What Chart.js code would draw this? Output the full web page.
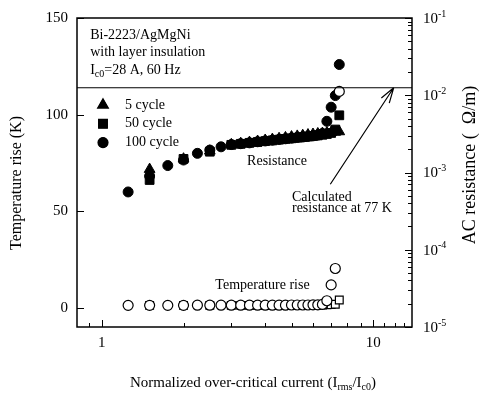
<!DOCTYPE html>
<html><head><meta charset="utf-8">
<script src="https://cdn.jsdelivr.net/npm/chart.js@4/dist/chart.umd.min.js"></script>
<style>html,body{margin:0;padding:0;background:#fff}</style>
</head><body>
<canvas id="c" width="482" height="399"></canvas>
<script>
// ---- data ----
const current5   = [1.5, 2.0, 2.5, 3.0, 3.25, 3.5, 3.75, 4.0, 4.25, 4.5, 4.75, 5.0, 5.25, 5.5, 5.75, 6.0, 6.25, 6.5, 6.75, 7.0, 7.25, 7.5];
const resistance5 = [1.1e-3, 1.5e-3, 1.9e-3, 2.3e-3, 2.38e-3, 2.46e-3, 2.54e-3, 2.62e-3, 2.69e-3, 2.76e-3, 2.83e-3, 2.9e-3, 2.96e-3, 3.02e-3, 3.08e-3, 3.13e-3, 3.18e-3, 3.22e-3, 3.27e-3, 3.3e-3, 3.33e-3, 3.38e-3];

const current50   = [1.5, 2.0, 2.5, 3.0, 3.25, 3.5, 3.75, 4.0, 4.25, 4.5, 4.75, 5.0, 5.25, 5.5, 5.75, 6.0, 6.25, 6.5, 6.75, 7.0, 7.25, 7.5];
const resistance50 = [8.0e-4, 1.5e-3, 1.86e-3, 2.28e-3, 2.35e-3, 2.42e-3, 2.48e-3, 2.55e-3, 2.6e-3, 2.66e-3, 2.72e-3, 2.77e-3, 2.82e-3, 2.87e-3, 2.92e-3, 2.97e-3, 3.02e-3, 3.08e-3, 3.15e-3, 3.25e-3, 3.6e-3, 5.5e-3];
const temperature50 = [1.2, 1.2, 1.2, 1.2, 1.2, 1.2, 1.2, 1.2, 1.2, 1.2, 1.2, 1.2, 1.2, 1.2, 1.3, 1.3, 1.3, 1.4, 1.5, 1.6, 1.8, 4.0];

const current100   = [1.25, 1.5, 1.75, 2.0, 2.25, 2.5, 2.75, 3.0, 3.25, 3.5, 3.75, 4.0, 4.25, 4.5, 4.75, 5.0, 5.25, 5.5, 5.75, 6.0, 6.25, 6.5, 6.75, 7.0, 7.25, 7.5];
const resistance100 = [5.6e-4, 9.0e-4, 1.23e-3, 1.45e-3, 1.77e-3, 1.95e-3, 2.15e-3, 2.3e-3, 2.36e-3, 2.42e-3, 2.5e-3, 2.56e-3, 2.62e-3, 2.68e-3, 2.73e-3, 2.78e-3, 2.84e-3, 2.88e-3, 2.93e-3, 2.98e-3, 3.05e-3, 3.2e-3, 4.6e-3, 7.0e-3, 9.9e-3, 2.5e-2];
const temperature100 = [1.2, 1.2, 1.2, 1.2, 1.3, 1.3, 1.3, 1.3, 1.3, 1.3, 1.3, 1.3, 1.3, 1.3, 1.3, 1.4, 1.4, 1.4, 1.4, 1.5, 1.5, 1.7, 3.6, 11.8, 20.3, 112];

const calculatedResistance77K = 0.0125;
const xTickLabels = [1, 10];
const tempTickLabels = [0, 50, 100, 150];
const resistanceDecades = [-5, -4, -3, -2, -1];
const seriesNames = ['5 cycle', '50 cycle', '100 cycle'];

const FONT = '"Liberation Serif", "Times New Roman", serif';

function pts(xs, ys) { return xs.map((x, i) => ({x: x, y: ys[i]})); }

// annotation anchors given in data units
const notes = {
  info: {x: 0.906, ys: [140.8, 132.1, 122.9]},
  resistance: {x: 3.43, y: 1.41e-3},
  calc1: {x: 5.02, y: 57.1},
  calc2: {x: 5.02, y: 51.6},
  temp: {x: 2.62, y: 11.4},
  arrowTail: {x: 6.95, y: 63.9},
  arrowTip: {x: 11.9, y: calculatedResistance77K}
};

function drawRich(ctx, segs, x, y, size, align) {
  let total = 0;
  const widths = segs.map(s => {
    ctx.font = (s.sub || s.sup ? Math.round(size * 0.68) : size) + 'px ' + FONT;
    const w = ctx.measureText(s.t).width; total += w; return w;
  });
  let cx = align === 'center' ? x - total / 2 : x;
  ctx.textBaseline = 'middle';
  ctx.textAlign = 'left';
  segs.forEach((s, i) => {
    ctx.font = (s.sub || s.sup ? Math.round(size * 0.68) : size) + 'px ' + FONT;
    const dy = s.sub ? size * 0.32 : (s.sup ? -size * 0.33 : 0);
    ctx.fillText(s.t, cx, y + dy);
    cx += widths[i];
  });
}

const decor = {
  id: 'decor',
  afterDatasetsDraw(chart) {
    const ctx = chart.ctx;
    const a = chart.chartArea;
    const sx = chart.scales.x, sy = chart.scales.y, sr = chart.scales.y2;
    ctx.save();
    ctx.strokeStyle = '#000';
    ctx.fillStyle = '#000';
    // frame
    ctx.lineWidth = 1.5;
    ctx.strokeRect(a.left, a.top, a.right - a.left, a.bottom - a.top);
    // inward ticks
    ctx.lineWidth = 1;
    ctx.beginPath();
    const xMinor = [0.9, 2, 3, 4, 5, 6, 7, 8, 9, 11, 12, 13];
    xMinor.forEach(v => { const p = Math.round(sx.getPixelForValue(v)) + 0.5; ctx.moveTo(p, a.bottom); ctx.lineTo(p, a.bottom - 4); });
    xTickLabels.forEach(v => { const p = Math.round(sx.getPixelForValue(v)) + 0.5; ctx.moveTo(p, a.bottom); ctx.lineTo(p, a.bottom - 7); });
    tempTickLabels.forEach(v => { const p = Math.round(sy.getPixelForValue(v)) + 0.5; ctx.moveTo(a.left, p); ctx.lineTo(a.left + 7, p); });
    resistanceDecades.forEach(d => {
      const p = Math.round(sr.getPixelForValue(Math.pow(10, d))) + 0.5;
      ctx.moveTo(a.right, p); ctx.lineTo(a.right - 7, p);
      if (d < -1) for (let m = 2; m <= 9; m++) {
        const q = Math.round(sr.getPixelForValue(m * Math.pow(10, d))) + 0.5;
        ctx.moveTo(a.right, q); ctx.lineTo(a.right - 4, q);
      }
    });
    ctx.stroke();
    // right tick labels
    resistanceDecades.forEach(d => {
      const p = sr.getPixelForValue(Math.pow(10, d));
      drawRich(ctx, [{t: '10'}, {t: String(d), sup: true}], a.right + 11, p + 1, 15, 'left');
    });
    // axis titles
    ctx.save();
    ctx.translate(17, 183); ctx.rotate(-Math.PI / 2);
    drawRich(ctx, [{t: 'Temperature rise (K)'}], 0, 0, 16, 'center');
    ctx.restore();
    ctx.save();
    ctx.translate(470, 165); ctx.rotate(-Math.PI / 2);
    drawRich(ctx, [{t: 'AC resistance (  \u03A9/m)'}], 0, 0, 18, 'center');
    ctx.restore();
    drawRich(ctx, [{t: 'Normalized over-critical current (I'}, {t: 'rms', sub: true}, {t: '/I'}, {t: 'c0', sub: true}, {t: ')'}], 253, 383, 15, 'center');
    // info box text
    const ix = sx.getPixelForValue(notes.info.x);
    drawRich(ctx, [{t: 'Bi-2223/AgMgNi'}], ix, sy.getPixelForValue(notes.info.ys[0]), 14, 'left');
    drawRich(ctx, [{t: 'with layer insulation'}], ix, sy.getPixelForValue(notes.info.ys[1]), 14, 'left');
    drawRich(ctx, [{t: 'I'}, {t: 'c0', sub: true}, {t: '=28 A, 60 Hz'}], ix, sy.getPixelForValue(notes.info.ys[2]), 14, 'left');
    // labels
    drawRich(ctx, [{t: 'Resistance'}], sx.getPixelForValue(notes.resistance.x), sr.getPixelForValue(notes.resistance.y), 14, 'left');
    drawRich(ctx, [{t: 'Calculated'}], sx.getPixelForValue(notes.calc1.x), sy.getPixelForValue(notes.calc1.y), 14, 'left');
    drawRich(ctx, [{t: 'resistance at 77 K'}], sx.getPixelForValue(notes.calc2.x), sy.getPixelForValue(notes.calc2.y), 14, 'left');
    drawRich(ctx, [{t: 'Temperature rise'}], sx.getPixelForValue(notes.temp.x), sy.getPixelForValue(notes.temp.y), 14, 'left');
    // arrow
    const tx = sx.getPixelForValue(notes.arrowTail.x), ty = sy.getPixelForValue(notes.arrowTail.y);
    const hx = sx.getPixelForValue(notes.arrowTip.x), hy = sr.getPixelForValue(notes.arrowTip.y);
    ctx.lineWidth = 1.2;
    ctx.beginPath(); ctx.moveTo(tx, ty); ctx.lineTo(hx, hy);
    const ang = Math.atan2(hy - ty, hx - tx);
    [0.3, -0.3].forEach(o => { ctx.moveTo(hx, hy); ctx.lineTo(hx - 16 * Math.cos(ang + o), hy - 16 * Math.sin(ang + o)); });
    ctx.stroke();
    // legend
    const styles = ['triangle', 'rect', 'circle'];
    const radii = [6.2, 6.2, 5];
    seriesNames.forEach((n, i) => {
      const ly = a.top + 87 + i * 18.8;
      Chart.helpers.drawPoint(ctx, {pointStyle: styles[i], radius: radii[i], rotation: 0, borderWidth: 1}, a.left + 26, ly);
      ctx.fill();
      drawRich(ctx, [{t: n}], a.left + 48, ly, 14, 'left');
    });
    ctx.restore();
  }
};

function resDs(label, xs, ys, style, r) {
  return {label, data: pts(xs, ys), yAxisID: 'y2', showLine: false, pointStyle: style, pointRadius: r, pointHoverRadius: r,
    backgroundColor: '#000', borderColor: '#000', borderWidth: 1};
}
function tmpDs(label, xs, ys, style, r) {
  return {label, data: pts(xs, ys), yAxisID: 'y', showLine: false, pointStyle: style, pointRadius: r, pointHoverRadius: r,
    backgroundColor: '#fff', borderColor: '#000', borderWidth: 1.2};
}

// note: Chart.js paints the first dataset last (on top)
new Chart(document.getElementById('c'), {
  type: 'scatter',
  data: {
    datasets: [
      {label: 'Calculated resistance at 77 K', type: 'line', yAxisID: 'y2',
       data: [{x: 0.81, y: calculatedResistance77K}, {x: 13.9, y: calculatedResistance77K}],
       borderColor: '#000', borderWidth: 1.2, pointRadius: 0, fill: false},
      tmpDs('100 cycle temperature', current100, temperature100, 'circle', 5),
      tmpDs('50 cycle temperature', current50, temperature50, 'rect', 5.5),
      resDs('100 cycle', current100, resistance100, 'circle', 5),
      resDs('5 cycle', current5, resistance5, 'triangle', 6.2),
      resDs('50 cycle', current50, resistance50, 'rect', 6.2)
    ]
  },
  options: {
    responsive: false,
    animation: false,
    layout: {padding: {top: 15, left: 0, right: 0, bottom: 0}},
    plugins: {legend: {display: false}, tooltip: {enabled: false}},
    scales: {
      x: {type: 'logarithmic', min: 0.81, max: 13.9,
          grid: {display: false, drawTicks: false}, border: {display: false},
          afterBuildTicks: s => { s.ticks = xTickLabels.map(v => ({value: v})); },
          ticks: {autoSkip: false, maxRotation: 0, padding: 7, color: '#000', font: {family: FONT, size: 15}, callback: v => String(v)},
          afterFit: s => { s.height = 72; }},
      y: {type: 'linear', position: 'left', min: -10, max: 150,
          grid: {display: false, drawTicks: false}, border: {display: false},
          afterBuildTicks: s => { s.ticks = tempTickLabels.map(v => ({value: v})); },
          ticks: {padding: 9, color: '#000', font: {family: FONT, size: 15}},
          afterFit: s => { s.width = 77; }},
      y2: {type: 'logarithmic', position: 'right', min: 1e-5, max: 1e-1,
          grid: {display: false, drawTicks: false}, border: {display: false},
          ticks: {display: false},
          afterFit: s => { s.width = 70; }}
    }
  },
  plugins: [decor]
});
</script>
</body></html>
